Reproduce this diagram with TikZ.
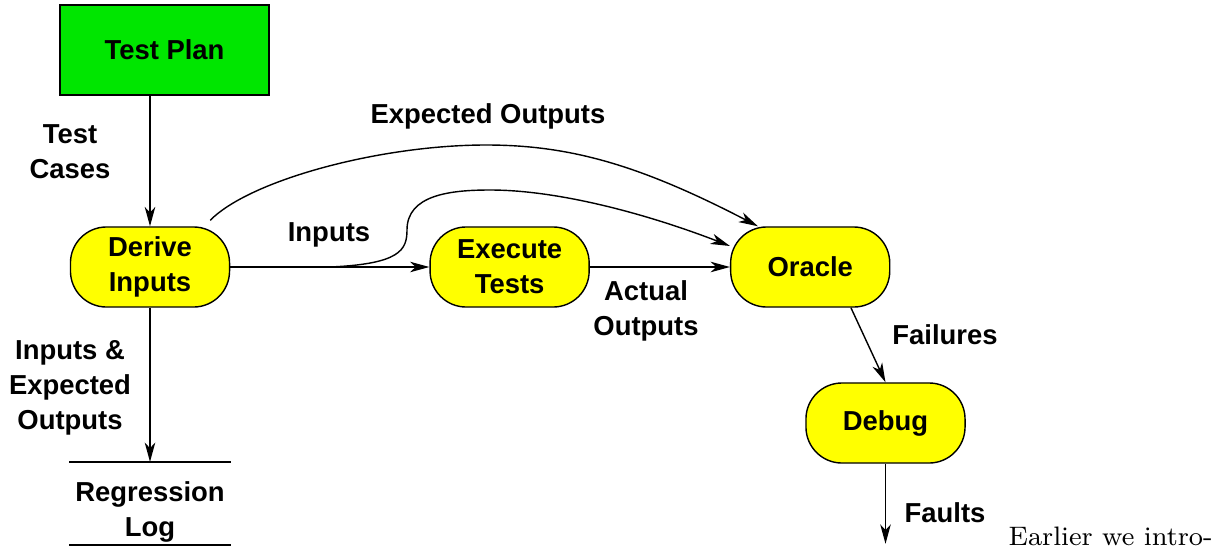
\documentclass[tikz,border=0pt]{standalone}
\definecolor{PlanGreen}{RGB}{0, 230, 0}
\definecolor{BoxYellow}{RGB}{255, 255, 0}
\usepackage{fontspec}
\setsansfont{Liberation Sans}
\usepackage{tikz}
\usetikzlibrary{arrows.meta, positioning, calc}

\begin{document}
\begin{tikzpicture}[x=0.01cm, y=-0.01cm, line width=0.4pt,
    every node/.style={font=\sffamily\bfseries\fontsize{7.8}{10}\selectfont, align=center},
    procbox/.style={draw, fill=BoxYellow, rounded corners=0.36cm, minimum width=1.59cm, minimum height=0.8cm, inner sep=0pt},
    flow/.style={-{Stealth[length=5.5pt, width=3pt, inset=1.6pt]}}]
    \useasboundingbox (0,0) rectangle (1215,548);

    \node[draw, fill=PlanGreen, minimum width=2.09cm, minimum height=0.9cm] (plan) at (164.5,50) {Test Plan};
    \node[procbox] (derive) at (150,267) {Derive\\Inputs};
    \node[procbox, right=1.99cm of derive] (execute) {Execute\\Tests};
    \node[procbox, right=1.4cm of execute] (oracle) {Oracle};
    \node[procbox] (debug) at (885.5,423) {Debug};
    \node[minimum width=1.6cm, inner sep=0pt] (log) at (150,512) {Regression\\Log};
    \coordinate (fork) at ($(derive.east)!0.5!(execute.west)$);
    \coordinate[below=0.8cm of debug] (faultsend);

    % log lines
    \draw ([yshift=1.9mm]log.north west) -- ([yshift=1.9mm]log.north east);
    \draw ([yshift=-0.2mm]log.south west) -- ([yshift=-0.2mm]log.south east);

    \draw[flow] (derive.north |- plan.south) -- (derive.north);
    \draw[flow] (derive.south) -- ([yshift=1.9mm]log.north);
    \draw[flow] (derive.east) -- (execute.west);
    \draw[flow] (execute.east) -- (execute.east -| oracle.west);
    \draw[flow] (fork) .. controls (400,264) and (407,250) .. (407,230)
        .. controls (407,195) and (450,190) .. (490,190)
        .. controls (560,190) and (650,215) .. ([yshift=2.1mm]oracle.west);
    \draw[flow] ([xshift=-2mm,yshift=0.6mm]derive.north east) .. controls (250,180) and (380,145) .. (486,145)
        .. controls (570,145) and (640,165) .. ([xshift=2.8mm]oracle.north west);
    \draw[flow] (oracle.-45) -- (debug.north);
    \draw[flow] (debug.south) -- (faultsend);

    \node (testcases) at (70,152) {Test\\Cases};
    \node (inexp) at (70,388) {Inputs \&\\Expected\\Outputs};
    \node (inputs) at (329,235) {Inputs};
    \node (expected) at (488,116) {Expected Outputs};
    \node (actual) at (646,311) {Actual\\Outputs};
    \node (failures) at (945,335) {Failures};
    \node (faults) at (945,513) {Faults};
    \node[font=\rmfamily\mdseries\fontsize{7.6}{9.6}\selectfont, anchor=base west, inner sep=0pt] (earlier) at (1008,545) {Earlier we intro-};
\end{tikzpicture}
\end{document}
